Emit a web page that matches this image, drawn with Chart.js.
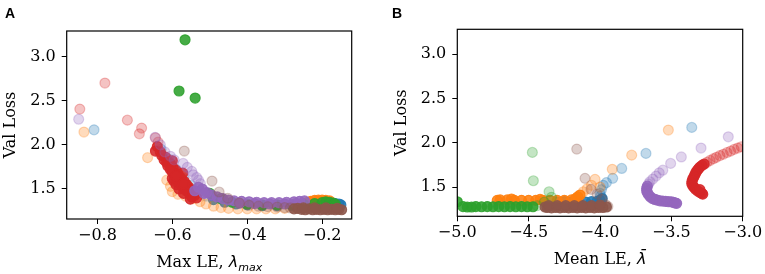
<!DOCTYPE html>
<html>
<head>
<meta charset="utf-8">
<script src="https://cdn.jsdelivr.net/npm/chart.js@4.4.0/dist/chart.umd.min.js"></script>
<style>
  body { margin: 0; width: 765px; height: 274px; background: #fff; position: relative; overflow: hidden; }
  .panel { position: absolute; top: 0; width: 380px; height: 274px; }
  .tag { position: absolute; top: 6px; font: bold 14px/14px "Liberation Sans", Arial, sans-serif; color: #000; z-index: 2; }
</style>
</head>
<body>
<div class="panel" style="left:0"><canvas id="chartA"></canvas></div>
<div class="panel" style="left:385px"><canvas id="chartB"></canvas></div>
<div class="tag" style="left:5px">A</div>
<div class="tag" style="left:392px">B</div>
<script>
// series order: blue, orange, green, red, purple, brown (one run each)
var seriesNames = ["run 1", "run 2", "run 3", "run 4", "run 5", "run 6"];

// panel A: [max LE, val loss], earliest epochs first
var blueA = [[-0.809,2.17],[-0.63,1.95],[-0.61,1.84],[-0.59,1.72],[-0.57,1.62],[-0.55,1.54],[-0.53,1.47],[-0.51,1.42],
  [-0.49,1.38],[-0.46,1.35],[-0.43,1.33],[-0.40,1.32],[-0.36,1.31],[-0.32,1.31],[-0.28,1.31],[-0.24,1.32],[-0.21,1.33],
  [-0.18,1.34],[-0.165,1.335],[-0.155,1.33],[-0.15,1.32]];
var orangeA = [[-0.836,2.145],[-0.666,1.855],[-0.615,1.6],[-0.605,1.53],[-0.6,1.47],[-0.585,1.44],[-0.565,1.42],[-0.545,1.39],
  [-0.526,1.356],[-0.51,1.33],[-0.49,1.305],[-0.47,1.29],[-0.45,1.28],[-0.425,1.275],[-0.4,1.275],[-0.375,1.275],[-0.35,1.275],
  [-0.325,1.275],[-0.3,1.28],[-0.275,1.285],[-0.255,1.3],[-0.24,1.345],[-0.23,1.36],[-0.22,1.37],[-0.21,1.375],[-0.2,1.375],
  [-0.19,1.37],[-0.18,1.365],[-0.235,1.35],[-0.215,1.355]];
var greenA = [[-0.566,3.19],[-0.582,2.61],[-0.539,2.53],[-0.5,1.45],[-0.47,1.39],[-0.44,1.35],[-0.4,1.33],[-0.36,1.32],
  [-0.32,1.32],[-0.28,1.32],[-0.25,1.33],[-0.22,1.335],[-0.2,1.345],[-0.19,1.355],[-0.18,1.35],[-0.17,1.34],[-0.165,1.33]];
var redA = [[-0.847,2.405],[-0.78,2.70],[-0.72,2.28],[-0.682,2.19],[-0.688,2.125],[-0.645,2.08],[-0.638,2.03],
  [-0.64,1.98],[-0.645,1.93],[-0.632,1.92],[-0.628,1.88],[-0.618,1.86],[-0.622,1.83],[-0.61,1.81],[-0.604,1.78],[-0.612,1.76],
  [-0.598,1.74],[-0.59,1.71],[-0.6,1.69],[-0.585,1.67],[-0.594,1.645],[-0.58,1.635],[-0.575,1.61],[-0.588,1.6],[-0.568,1.585],
  [-0.58,1.565],[-0.562,1.55],[-0.575,1.53],[-0.556,1.52],[-0.568,1.5],[-0.55,1.49],[-0.56,1.47],[-0.545,1.46],[-0.553,1.44],
  [-0.54,1.43],[-0.548,1.41],[-0.535,1.40],[-0.552,1.385],[-0.59,1.55],[-0.596,1.59],[-0.572,1.68],[-0.6,1.62],[-0.582,1.5],
  [-0.57,1.45],[-0.615,1.8],[-0.605,1.72],[-0.59,1.65],[-0.57,1.56],[-0.6,1.82]];
var purpleA = [[-0.85,2.29],[-0.646,2.085],[-0.632,2.0],[-0.62,1.92],[-0.605,1.87],[-0.595,1.83],[-0.571,1.79],[-0.56,1.745],
  [-0.548,1.7],[-0.544,1.66],[-0.535,1.63],[-0.53,1.6],[-0.525,1.56],
  [-0.52,1.5],[-0.508,1.46],[-0.495,1.43],[-0.48,1.41],[-0.465,1.39],[-0.45,1.375],[-0.435,1.365],[-0.415,1.36],[-0.395,1.355],
  [-0.375,1.35],[-0.355,1.345],[-0.335,1.345],[-0.315,1.345],[-0.295,1.35],[-0.275,1.355],[-0.26,1.36],[-0.247,1.365],
  [-0.42,1.34],[-0.38,1.335],[-0.34,1.33],[-0.3,1.33],[-0.27,1.335],[-0.53,1.52],[-0.54,1.48],[-0.515,1.45]];
var brownA = [[-0.568,1.93],[-0.494,1.59],[-0.475,1.466],[-0.452,1.395],[-0.421,1.34],[-0.395,1.315],[-0.37,1.305],
  [-0.345,1.3],[-0.32,1.295],[-0.3,1.29],[-0.285,1.285],
  [-0.275,1.275],[-0.265,1.28],[-0.255,1.27],[-0.245,1.265],[-0.235,1.275],[-0.225,1.265],[-0.215,1.27],[-0.205,1.265],
  [-0.195,1.27],[-0.185,1.265],[-0.175,1.27],[-0.165,1.265],[-0.155,1.27],[-0.148,1.265],[-0.25,1.285],[-0.22,1.285],
  [-0.19,1.285],[-0.16,1.28]];

// panel B: [mean LE, val loss], earliest epochs first
var blueB = [[-3.357,2.173],[-3.678,1.88],[-3.848,1.71],[-3.911,1.598],[-3.955,1.55],[-3.977,1.52],[-3.99,1.47],[-4.0,1.43],
  [-3.995,1.4],[-3.985,1.37],[-4.0,1.35],[-4.02,1.34],[-4.06,1.335],[-4.1,1.33],[-4.15,1.33],[-4.2,1.33],[-4.25,1.335],[-4.3,1.33]];
var orangeB = [[-3.521,2.143],[-3.778,1.86],[-3.914,1.70],[-4.035,1.587],[-4.0,1.5],[-4.06,1.52],[-4.09,1.48],[-4.117,1.447],
  [-4.14,1.41],[-4.155,1.39],[-4.17,1.37],[-4.2,1.355],[-4.25,1.35],[-4.3,1.35],[-4.35,1.35],[-4.4,1.35],[-4.45,1.35],
  [-4.5,1.35],[-4.55,1.35],[-4.6,1.35],[-4.65,1.355],[-4.7,1.355],[-4.72,1.35],[-4.62,1.365],[-4.42,1.36]];
var greenB = [[-4.474,1.891],[-4.467,1.571],[-4.357,1.447],[-4.34,1.384],[-4.39,1.33],[-4.44,1.29],
  [-4.47,1.278],[-4.51,1.278],[-4.55,1.28],[-4.59,1.278],[-4.63,1.28],[-4.67,1.278],[-4.71,1.28],[-4.75,1.278],[-4.79,1.28],
  [-4.83,1.278],[-4.87,1.28],[-4.9,1.275],[-4.93,1.275],[-4.96,1.28],[-5.0,1.334]];
var redB = [[-3.01,1.955],[-3.035,1.94],[-3.06,1.925],[-3.085,1.905],[-3.11,1.89],[-3.136,1.87],[-3.16,1.855],[-3.185,1.835],
  [-3.205,1.82],[-3.229,1.80],[-3.25,1.78],
  [-3.27,1.76],[-3.285,1.745],[-3.3,1.725],[-3.31,1.705],[-3.32,1.685],[-3.328,1.665],[-3.335,1.64],[-3.342,1.615],[-3.35,1.59],
  [-3.355,1.565],[-3.357,1.54],[-3.35,1.515],[-3.34,1.495],[-3.33,1.475],[-3.315,1.455],[-3.3,1.44],[-3.288,1.43],[-3.28,1.42],[-3.3,1.47]];
var purpleB = [[-3.101,2.067],[-3.292,1.94],[-3.43,1.84],[-3.505,1.767],[-3.56,1.69],[-3.585,1.66],[-3.607,1.624],[-3.63,1.59],
  [-3.65,1.56],[-3.66,1.535],
  [-3.668,1.51],[-3.673,1.485],[-3.672,1.46],[-3.67,1.44],[-3.66,1.415],[-3.648,1.39],[-3.632,1.37],[-3.615,1.36],[-3.6,1.353],
  [-3.58,1.345],[-3.56,1.342],[-3.54,1.338],[-3.52,1.335],[-3.5,1.333],[-3.485,1.328],[-3.473,1.32],[-3.463,1.316]];
var brownB = [[-4.163,1.928],[-4.105,1.598],[-4.063,1.474],[-4.02,1.42],[-3.985,1.36],[-3.96,1.3],[-3.945,1.28],
  [-3.955,1.275],[-3.98,1.27],[-4.01,1.27],[-4.04,1.265],[-4.07,1.27],[-4.1,1.265],[-4.13,1.27],[-4.16,1.265],[-4.19,1.27],
  [-4.22,1.265],[-4.25,1.27],[-4.28,1.265],[-4.31,1.27],[-4.34,1.265],[-4.37,1.27],[-4.385,1.275],[-4.36,1.29],[-4.3,1.29],
  [-4.24,1.29],[-4.18,1.29],[-4.12,1.29],[-4.06,1.29],[-4.0,1.295]];

// how many of the first (early) points of each run are drawn faded
var earlyA = [8, 20, 0, 7, 13, 11];
var earlyB = [9, 8, 6, 11, 10, 7];

var yTicks = [1.5, 2.0, 2.5, 3.0];
var xTicksA = [-0.8, -0.6, -0.4, -0.2];
var xTicksB = [-5.0, -4.5, -4.0, -3.5, -3.0];

var tab10 = [[31,119,180],[255,127,14],[44,160,44],[214,39,40],[148,103,189],[140,86,75]];

Chart.defaults.font.family = '"DejaVu Serif", serif';
Chart.defaults.font.size = 16;
Chart.defaults.color = "#000";

function fmt(v) {
  return v.toFixed(1).replace("-", "\u2212");
}

function makeDatasets(runs, early) {
  return runs.map(function (run, i) {
    var c = tab10[i];
    var col = function (ctx) {
      var a = ctx.dataIndex < early[i] ? 0.28 : 0.88;
      return "rgba(" + c[0] + "," + c[1] + "," + c[2] + "," + a + ")";
    };
    return {
      label: seriesNames[i],
      data: run.map(function (p) { return { x: p[0], y: p[1] }; }),
      backgroundColor: col,
      borderColor: col,
      borderWidth: 1.2,
      pointRadius: 5,
      order: runs.length - i,
    };
  });
}

// frame round the plot area, like matplotlib spines
var framePlugin = {
  id: "frame",
  afterDraw: function (chart) {
    var a = chart.chartArea, ctx = chart.ctx;
    ctx.save();
    ctx.strokeStyle = "#000";
    ctx.lineWidth = 1.2;
    ctx.strokeRect(a.left, a.top, a.right - a.left, a.bottom - a.top);
    // x axis title with italic symbol
    var parts = chart.options.plugins.frame.title;
    var x0 = (a.left + a.right) / 2, y0 = a.bottom + 48;
    var w = 0;
    parts.forEach(function (p) {
      ctx.font = p.font;
      w += ctx.measureText(p.text).width;
    });
    var x = x0 - w / 2;
    ctx.fillStyle = "#000";
    ctx.textBaseline = "alphabetic";
    parts.forEach(function (p) {
      ctx.font = p.font;
      ctx.fillText(p.text, x, y0 + (p.dy || 0));
      x += ctx.measureText(p.text).width;
    });
    ctx.restore();
  },
};

function makeChart(id, runs, early, xMin, xMax, xTicks, yMin, yMax, box, title) {
  var ctx = document.getElementById(id).getContext("2d");
  return new Chart(ctx, {
    type: "scatter",
    data: { datasets: makeDatasets(runs, early) },
    options: {
      responsive: true,
      maintainAspectRatio: false,
      animation: false,
      events: [],
      layout: { padding: { left: 0, right: box.right, top: box.top, bottom: 0 } },
      scales: {
        x: {
          min: xMin,
          max: xMax,
          afterBuildTicks: function (axis) {
            axis.ticks = xTicks.map(function (v) { return { value: v }; });
          },
          afterFit: function (axis) { axis.height = box.xh; },
          grid: { drawOnChartArea: false, drawTicks: true, tickLength: 5, color: "#000" },
          border: { display: false },
          ticks: { padding: 2, maxRotation: 0, callback: function (v) { return fmt(v); } },
        },
        y: {
          min: yMin,
          max: yMax,
          afterBuildTicks: function (axis) {
            axis.ticks = yTicks.map(function (v) { return { value: v }; });
          },
          afterFit: function (axis) { axis.width = box.yw; },
          grid: { drawOnChartArea: false, drawTicks: true, tickLength: 5, color: "#000" },
          border: { display: false },
          ticks: { padding: 6, callback: function (v) { return fmt(v); } },
          title: { display: true, text: "Val Loss", padding: { top: box.tp, bottom: 0 } },
        },
      },
      plugins: {
        legend: { display: false },
        tooltip: { enabled: false },
        frame: { title: title },
      },
    },
    plugins: [framePlugin],
  });
}

var serif = '"DejaVu Serif", serif';
var math = '"DejaVu Sans", sans-serif';
makeChart("chartA", [blueA, orangeA, greenA, redA, purpleA, brownA], earlyA, -0.882, -0.121, xTicksA, 1.16, 3.29,
  { right: 28.3, top: 31, xh: 55, yw: 66.7, tp: 1 },
  [
    { text: "Max LE, ", font: "16px " + serif },
    { text: "\u03bb", font: "italic 16px " + math },
    { text: "max", font: "italic 11px " + math, dy: 3.5 },
  ]);
makeChart("chartB", [blueB, orangeB, greenB, redB, purpleB, brownB], earlyB, -5, -3, xTicksB, 1.17, 3.28,
  { right: 22.3, top: 29.3, xh: 57.7, yw: 72.3, tp: 7 },
  [
    { text: "Mean LE, ", font: "16px " + serif },
    { text: "\u03bb\u0304", font: "italic 16px " + math },
  ]);
</script>
</body>
</html>
